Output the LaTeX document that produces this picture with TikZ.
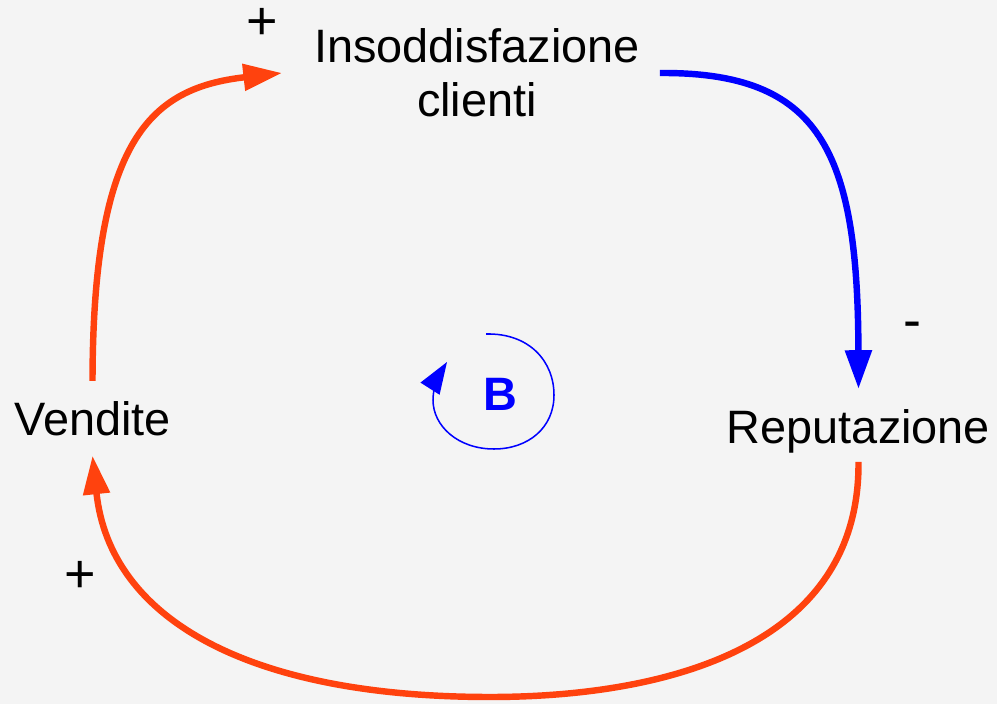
\documentclass[tikz,border=0pt]{standalone}
\usepackage{fontspec}
\setmainfont{Liberation Sans}
\usetikzlibrary{arrows.meta,calc}

\definecolor{loopred}{HTML}{FF420E}
\definecolor{loopblue}{HTML}{0000FF}
\definecolor{bggray}{HTML}{F4F4F4}

\begin{document}
\begin{tikzpicture}[
    x=0.03cm, y=-0.03cm,
    varname/.style={font=\fontsize{40}{46}\selectfont, inner sep=17pt, align=center},
    sign/.style={font=\fontsize{46}{50}\selectfont, inner sep=0pt},
    posarrow/.style={-{Triangle[length=33pt,width=22pt]}, line width=5.5pt, loopred},
    negarrow/.style={-{Triangle[length=33pt,width=22pt]}, line width=5.5pt, loopblue},
    loopmark/.style={font=\fontsize{40}{46}\selectfont\bfseries, text=loopblue},
    loopline/.style={-{Triangle[length=27pt,width=19pt]}, line width=1.3pt, loopblue}
]

% Background
\useasboundingbox (0,0) rectangle (997,704);
\fill[bggray] (0,0) rectangle (997,704);

% Variables
\node[varname] (ins) at (477,73) {Insoddisfazione\\clienti};
\node[varname, anchor=base] (vend) at (92.5,435) {Vendite};
\node[varname, anchor=base] (rep) at (858.5,443) {Reputazione};

% Links
\draw[posarrow] (vend.north) .. controls (93,140) and (150,88) .. ($(ins.west)+(-12,0)$);
\draw[negarrow] (ins.east) .. controls (820,72) and (858,150) .. (rep.north);
\draw[posarrow] ($(rep.south)+(0,-11)$) .. controls (860,650) and (660,697) .. (490,697)
    .. controls (250,697) and (110,620) .. (vend.south);

% Polarities
\node[sign] (pl1) at (262,24) {+};
\node[sign] (mi1) at (912,330) {-};
\node[sign] (pl2) at (80,577) {+};

% Balancing loop marker
\node[loopmark] (bmark) at (500,394) {B};
\draw[loopline] (486,334) .. controls (530,333) and (554,362) .. (554,395)
    .. controls (554,428) and (528,449) .. (494,449)
    .. controls (458,449) and (433,426) .. (433,400)
    .. controls (433,386) and (440,373) .. (447,362);

\end{tikzpicture}
\end{document}
